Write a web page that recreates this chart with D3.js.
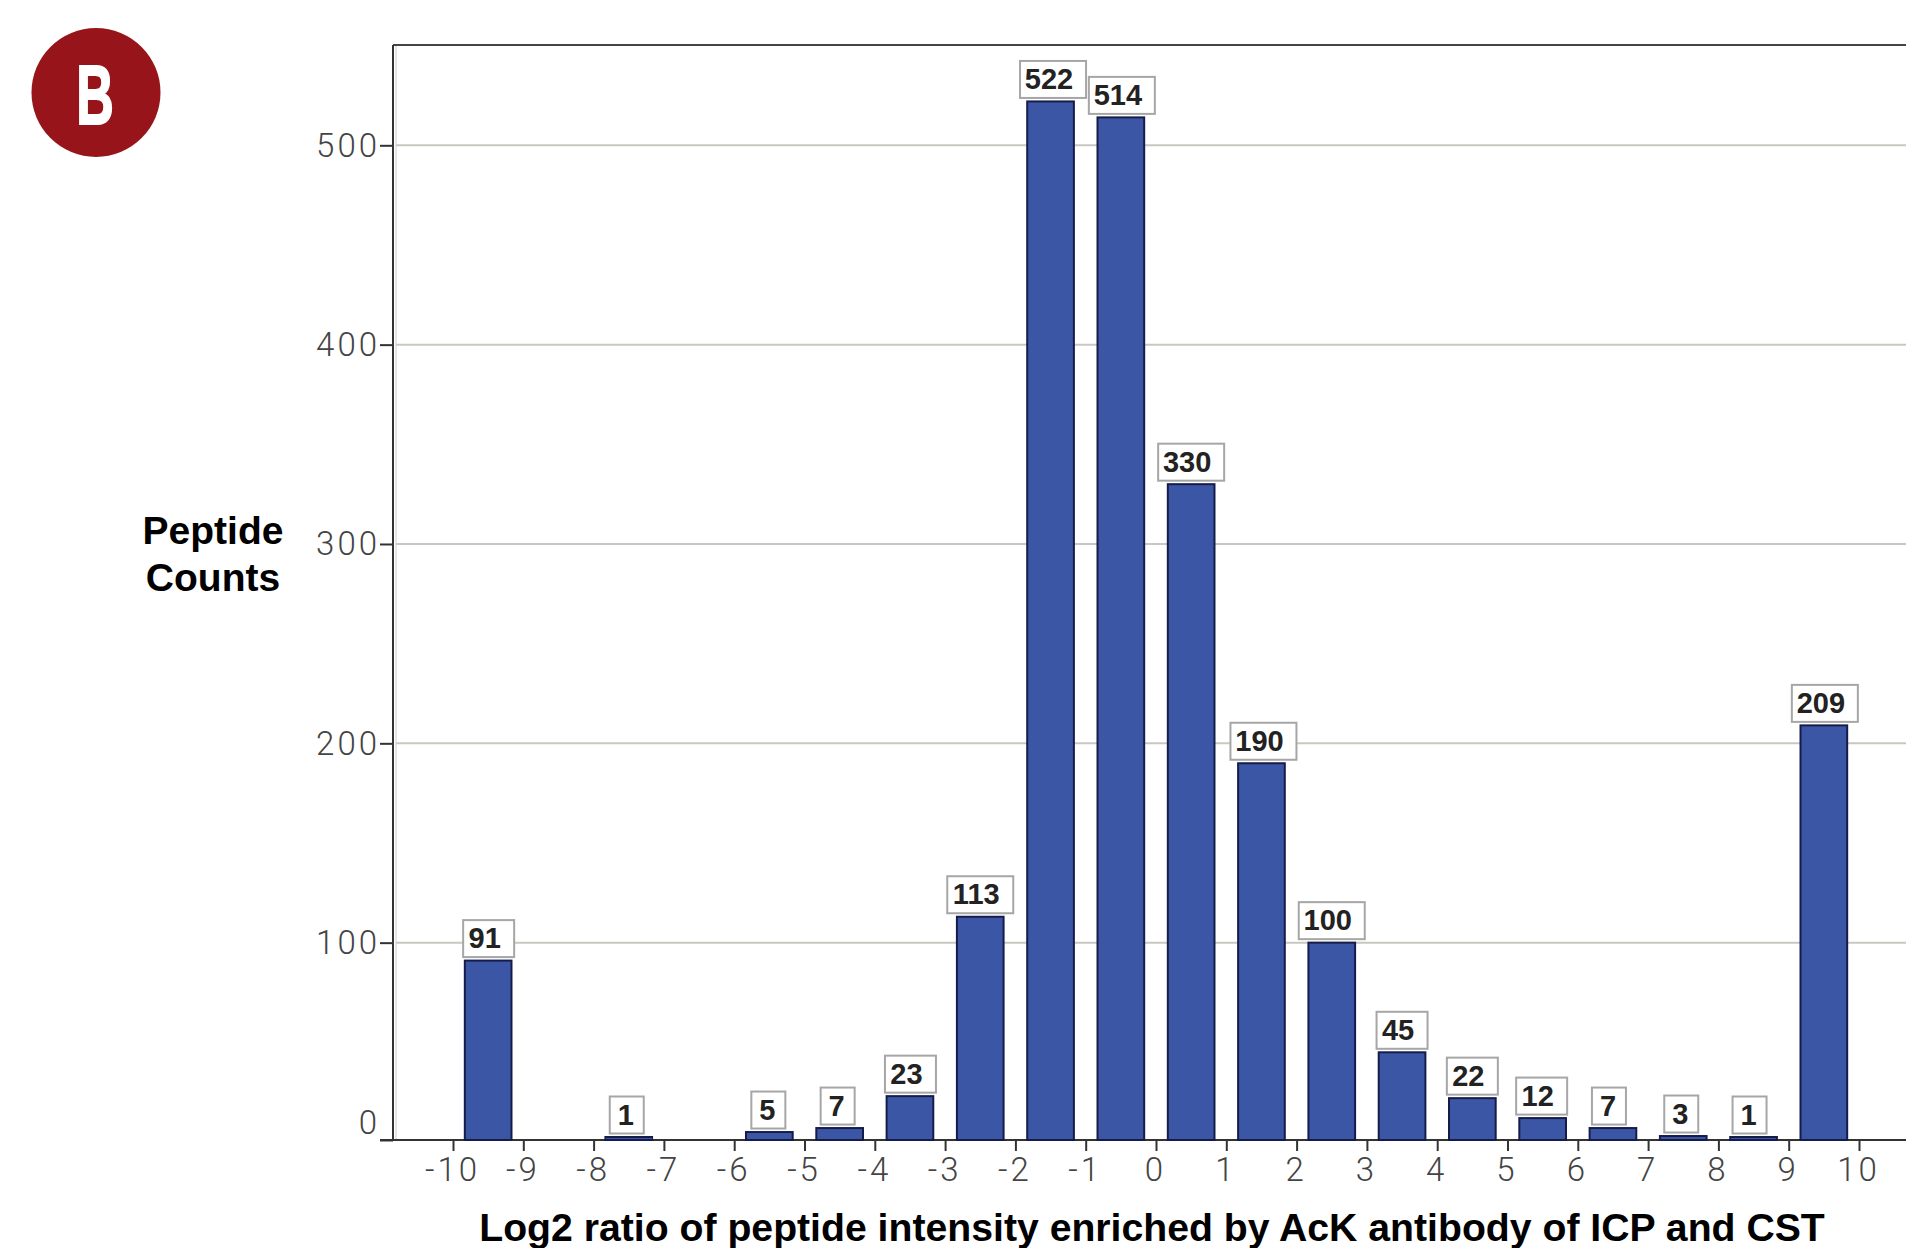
<!DOCTYPE html>
<html>
<head>
<meta charset="utf-8">
<script src="https://cdnjs.cloudflare.com/ajax/libs/d3/7.8.5/d3.min.js"></script>
<style>
    body { margin: 0; background: #fff; }
    svg { display: block; }
    .tick text { font-family: Roboto, "Liberation Sans", sans-serif; font-weight: 300; font-size: 33px; letter-spacing: 3px; fill: #444; }
    .title { font-family: "Liberation Sans", Arial, sans-serif; font-weight: 700; fill: #000; }
    .bar-label { font-family: "Liberation Sans", Arial, sans-serif; font-weight: 700; font-size: 29px; fill: #222; }
</style>
</head>
<body>
<div id="chart"></div>
<script>
// Left edge of each histogram bin (log2 ratio) and its peptide count
const binStarts = [-10, -9, -8, -7, -6, -5, -4, -3, -2, -1, 0, 1, 2, 3, 4, 5, 6, 7, 8, 9];
const counts = [91, 0, 1, 0, 5, 7, 23, 113, 522, 514, 330, 190, 100, 45, 22, 12, 7, 3, 1, 209];
const xTicks = [-10, -9, -8, -7, -6, -5, -4, -3, -2, -1, 0, 1, 2, 3, 4, 5, 6, 7, 8, 9, 10];
const yTicks = [0, 100, 200, 300, 400, 500];

const width = 1906, height = 1248;

const svg = d3.select("#chart").append("svg")
    .attr("width", width)
    .attr("height", height);

const x = d3.scaleLinear().domain([-10, 10]).range([453, 1859]);
const y = d3.scaleLinear().domain([0, 500]).range([1142, 145.3]);

const plotLeft = 393, plotTop = 45, baseline = 1140, barWidth = 0.664;

// The drawn baseline sits 2px above y(0), keep the smallest bars visible
const barTop = d => Math.min(y(d.count), baseline - 3);

// Grid lines first so the bars sit on top
svg.append("g")
    .selectAll("line")
    .data(yTicks.filter(d => d > 0))
    .enter().append("line")
    .attr("x1", plotLeft + 3)
    .attr("x2", width)
    .attr("y1", d => y(d))
    .attr("y2", d => y(d))
    .attr("stroke", "#c9c7bf")
    .attr("stroke-width", 2);

// Plot frame: top and left
svg.append("line")
    .attr("x1", plotLeft).attr("x2", width)
    .attr("y1", plotTop).attr("y2", plotTop)
    .attr("stroke", "#444").attr("stroke-width", 2);
svg.append("line")
    .attr("x1", plotLeft).attr("x2", plotLeft)
    .attr("y1", plotTop).attr("y2", baseline)
    .attr("stroke", "#333").attr("stroke-width", 2);
svg.append("line")
    .attr("x1", plotLeft + 3).attr("x2", plotLeft + 3)
    .attr("y1", plotTop + 1).attr("y2", baseline)
    .attr("stroke", "#ccc").attr("stroke-width", 1);

// Axes
const xAxis = svg.append("g")
    .attr("transform", `translate(0,${baseline})`)
    .call(d3.axisBottom(x).tickValues(xTicks).tickFormat(d => String(d)).tickSize(11));
xAxis.select(".domain").remove();
xAxis.selectAll("line").attr("stroke", "#333").attr("stroke-width", 2);
xAxis.selectAll("text").attr("y", 41).attr("dy", 0).attr("dx", -1);

const yAxis = svg.append("g")
    .attr("transform", `translate(${plotLeft},0)`)
    .call(d3.axisLeft(y).tickValues(yTicks).tickSize(13).tickPadding(0));
yAxis.select(".domain").remove();
yAxis.selectAll("line").attr("stroke", "#333").attr("stroke-width", 2);
yAxis.selectAll(".tick").filter(d => d === 0).select("line").attr("y1", -2).attr("y2", -2);
yAxis.selectAll("text").attr("dy", d => d === 0 ? -9 : 11);

// Baseline runs from the tick stub out past the right edge
svg.append("line")
    .attr("x1", plotLeft - 13).attr("x2", width)
    .attr("y1", baseline).attr("y2", baseline)
    .attr("stroke", "#333").attr("stroke-width", 2);

const bins = binStarts.map((start, i) => ({ start, count: counts[i] })).filter(d => d.count > 0);

// Bars
svg.append("g")
    .selectAll("rect")
    .data(bins)
    .enter().append("rect")
    .attr("x", d => x(d.start + 0.5 - barWidth / 2))
    .attr("y", barTop)
    .attr("width", d => x(barWidth) - x(0))
    .attr("height", d => baseline - barTop(d))
    .attr("fill", "#3c56a6")
    .attr("stroke", "#161c4a")
    .attr("stroke-width", 2);

// The label boxes do not sit exactly over their bars, small shift per bar in px
const labelNudge = [0.5, -2, -1, -2, 0.5, 0, 2.5, 1, 0, 2, 0, 0, 0, -1, -4, -2, -4, 1];

// Value labels in small white boxes
const labels = svg.append("g")
    .selectAll("g")
    .data(bins)
    .enter().append("g")
    .attr("transform", (d, i) => `translate(${x(d.start + 0.5) + labelNudge[i]},${barTop(d) - 3.5})`);

labels.append("rect")
    .attr("x", d => -boxWidth(d) / 2)
    .attr("y", -37)
    .attr("width", boxWidth)
    .attr("height", 37)
    .attr("fill", "#fff")
    .attr("stroke", "#a6a6a6")
    .attr("stroke-width", 2);

labels.append("text")
    .attr("class", "bar-label")
    .attr("text-anchor", "middle")
    .attr("x", d => d.count < 10 ? -1 : -4)
    .attr("y", -9)
    .text(d => d.count);

function boxWidth(d) {
    return [34, 51, 66][String(d.count).length - 1];
}

// Axis titles
svg.append("text")
    .attr("class", "title")
    .attr("text-anchor", "middle")
    .style("font-size", "39px")
    .selectAll("tspan")
    .data(["Peptide", "Counts"])
    .enter().append("tspan")
    .attr("x", 213)
    .attr("y", (d, i) => 544 + i * 47)
    .text(d => d);

svg.append("text")
    .attr("class", "title")
    .attr("text-anchor", "middle")
    .attr("x", 1152)
    .attr("y", 1241)
    .style("font-size", "39.2px")
    .text("Log2 ratio of peptide intensity enriched by AcK antibody of ICP and CST");

// Panel badge
svg.append("circle")
    .attr("cx", 96).attr("cy", 92.5).attr("r", 64.5)
    .attr("fill", "#97151a");
svg.append("text")
    .attr("transform", "translate(95,124) scale(0.62,1)")
    .attr("text-anchor", "middle")
    .attr("font-family", "Liberation Sans, Arial, sans-serif")
    .attr("font-weight", 700)
    .attr("font-size", 84)
    .attr("fill", "#fff")
    .attr("stroke", "#fff")
    .attr("stroke-width", 2)
    .text("B");
</script>
</body>
</html>
